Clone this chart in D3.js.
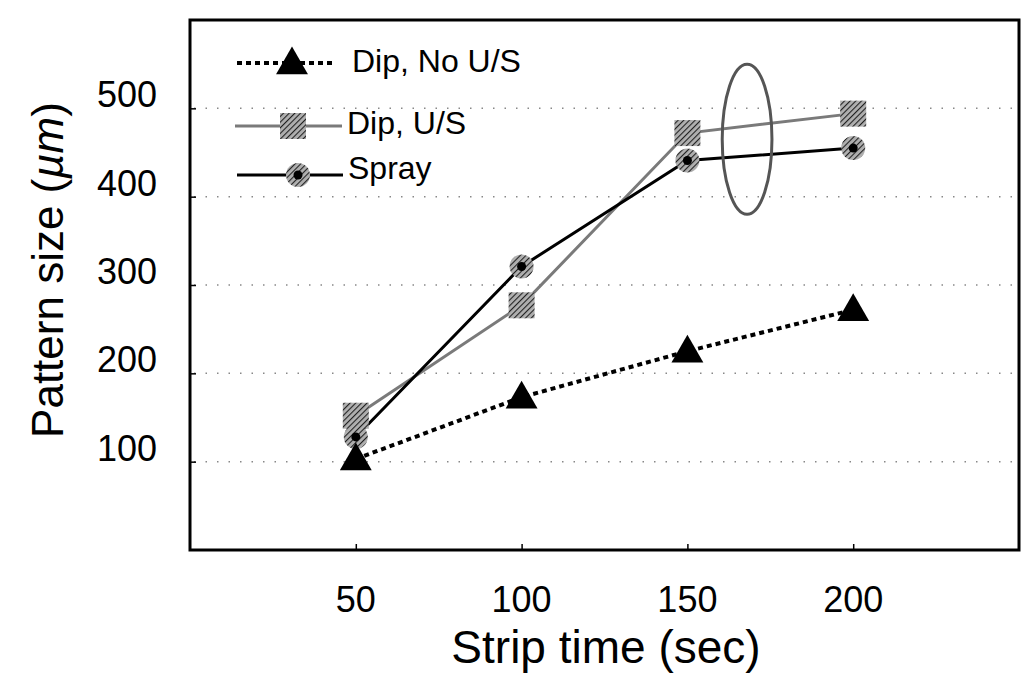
<!DOCTYPE html>
<html>
<head>
<meta charset="utf-8">
<title>Pattern size vs strip time</title>
<script src="https://d3js.org/d3.v7.min.js"></script>
<style>
  body { margin: 0; background: #fff; }
  svg { font-family: "Liberation Sans", Arial, sans-serif; }
  .grid line { stroke: #888; stroke-width: 1.5; stroke-dasharray: 1.5,10; }
</style>
</head>
<body>
<svg width="1024" height="679"></svg>
<script>
// values
var stripTimes = [50, 100, 150, 200];
var dipNoUS = [103, 173, 225, 272];
var dipUS = [152, 277, 472, 494];
var spray = [128, 321, 441, 455];
var yTicks = [100, 200, 300, 400, 500];
var xTicks = [50, 100, 150, 200];
var seriesNames = ["Dip, No U/S", "Dip, U/S", "Spray"];
// the ellipse drawn around the 150-200 sec points (centre and radii in data units)
var ringCentre = [168, 465];
var ringRadii = [7.5, 85];

var svg = d3.select("svg");

var x = d3.scaleLinear().domain([0, 250]).range([190, 1019]);
var y = d3.scaleLinear().domain([0, 600]).range([550, 20]);

var defs = svg.append("defs");
var hatch = defs.append("pattern")
    .attr("id", "hatch")
    .attr("patternUnits", "userSpaceOnUse")
    .attr("width", 4).attr("height", 4)
    .attr("patternTransform", "rotate(45)");
hatch.append("rect").attr("width", 4).attr("height", 4).attr("fill", "#b0b0b0");
hatch.append("line").attr("x1", 0).attr("y1", 0).attr("x2", 0).attr("y2", 4)
    .attr("stroke", "#222").attr("stroke-width", 2.2);

// dotted gridlines
svg.append("g").attr("class", "grid")
  .selectAll("line")
  .data(yTicks)
  .enter().append("line")
    .attr("x1", x(0) + 4).attr("x2", x(250) - 4)
    .attr("y1", function(d) { return y(d); })
    .attr("y2", function(d) { return y(d); });

// y axis (ticks inside)
svg.append("g")
    .attr("transform", "translate(" + x(0) + ",0)")
    .call(d3.axisRight(y).tickValues(yTicks).tickSize(6).tickFormat(""))
    .call(function(g) { g.select(".domain").remove(); })
    .selectAll("line").attr("stroke", "#000").attr("stroke-width", 1.5);

svg.append("g")
  .selectAll("text")
  .data(yTicks)
  .enter().append("text")
    .attr("x", 157)
    .attr("y", function(d) { return y(d) - 1; })
    .attr("text-anchor", "end")
    .attr("font-size", 36)
    .text(function(d) { return d; });

// x axis (ticks inside)
svg.append("g")
    .attr("transform", "translate(0," + y(0) + ")")
    .call(d3.axisTop(x).tickValues(xTicks).tickSize(6).tickFormat(""))
    .call(function(g) { g.select(".domain").remove(); })
    .selectAll("line").attr("stroke", "#000").attr("stroke-width", 1.5);

svg.append("g")
  .selectAll("text")
  .data(xTicks)
  .enter().append("text")
    .attr("x", function(d) { return x(d); })
    .attr("y", 612)
    .attr("text-anchor", "middle")
    .attr("font-size", 36)
    .text(function(d) { return d; });

// frame
svg.append("rect")
    .attr("x", x(0)).attr("y", y(600))
    .attr("width", x(250) - x(0)).attr("height", y(0) - y(600))
    .attr("fill", "none")
    .attr("stroke", "#000")
    .attr("stroke-width", 3);

// axis titles
svg.append("text")
    .attr("x", 606).attr("y", 663)
    .attr("text-anchor", "middle")
    .attr("font-size", 46)
    .text("Strip time (sec)");

var yl = svg.append("text")
    .attr("transform", "translate(63,270) rotate(-90)")
    .attr("text-anchor", "middle")
    .attr("font-size", 44);
yl.append("tspan").text("Pattern size (");
yl.append("tspan").attr("font-style", "italic").text("\u00b5m");
yl.append("tspan").text(")");

// series lines
var line = d3.line()
    .x(function(d) { return x(d[0]); })
    .y(function(d) { return y(d[1]); });

function pairs(vals) { return stripTimes.map(function(t, i) { return [t, vals[i]]; }); }

svg.append("path").datum(pairs(dipUS))
    .attr("d", line).attr("fill", "none")
    .attr("stroke", "#7a7a7a").attr("stroke-width", 3);

svg.append("path").datum(pairs(spray))
    .attr("d", line).attr("fill", "none")
    .attr("stroke", "#000").attr("stroke-width", 3);

svg.append("path").datum(pairs(dipNoUS))
    .attr("d", line).attr("fill", "none")
    .attr("stroke", "#000").attr("stroke-width", 4)
    .attr("stroke-dasharray", "5,4");

// markers
var tri = d3.symbol().type(d3.symbolTriangle).size(440);

function drawSquare(g, cx, cy) {
  g.append("rect")
      .attr("x", cx - 13).attr("y", cy - 13)
      .attr("width", 26).attr("height", 26)
      .attr("fill", "url(#hatch)");
}
function drawCircle(g, cx, cy) {
  g.append("circle").attr("cx", cx).attr("cy", cy).attr("r", 12)
      .attr("fill", "url(#hatch)");
  g.append("circle").attr("cx", cx).attr("cy", cy).attr("r", 4.5)
      .attr("fill", "#000");
}
function drawTriangle(g, cx, cy) {
  g.append("path").attr("d", tri)
      .attr("transform", "translate(" + cx + "," + (cy + 2) + ")")
      .attr("fill", "#000");
}

var marks = svg.append("g");
pairs(dipUS).forEach(function(d) { drawSquare(marks, x(d[0]), y(d[1])); });
pairs(spray).forEach(function(d) { drawCircle(marks, x(d[0]), y(d[1])); });
pairs(dipNoUS).forEach(function(d) { drawTriangle(marks, x(d[0]), y(d[1])); });

// ellipse
svg.append("ellipse")
    .attr("cx", x(ringCentre[0])).attr("cy", y(ringCentre[1]))
    .attr("rx", x(ringRadii[0]) - x(0)).attr("ry", y(0) - y(ringRadii[1]))
    .attr("fill", "none")
    .attr("stroke", "#555").attr("stroke-width", 3);

// legend
var legend = svg.append("g");
var rows = [
  { name: seriesNames[0], y: 63, x1: 237, x2: 335, mx: 292, tx: 352, ty: 72 },
  { name: seriesNames[1], y: 126, x1: 235, x2: 342, mx: 293, tx: 347, ty: 134 },
  { name: seriesNames[2], y: 175, x1: 237, x2: 343, mx: 298, tx: 348, ty: 179 }
];

legend.append("line")
    .attr("x1", rows[0].x1).attr("x2", rows[0].x2)
    .attr("y1", rows[0].y).attr("y2", rows[0].y)
    .attr("stroke", "#000").attr("stroke-width", 4).attr("stroke-dasharray", "5,4");
drawTriangle(legend, rows[0].mx, rows[0].y);

legend.append("line")
    .attr("x1", rows[1].x1).attr("x2", rows[1].x2)
    .attr("y1", rows[1].y).attr("y2", rows[1].y)
    .attr("stroke", "#7a7a7a").attr("stroke-width", 3);
drawSquare(legend, rows[1].mx, rows[1].y);

legend.append("line")
    .attr("x1", rows[2].x1).attr("x2", rows[2].x2)
    .attr("y1", rows[2].y).attr("y2", rows[2].y)
    .attr("stroke", "#000").attr("stroke-width", 3);
drawCircle(legend, rows[2].mx, rows[2].y);

legend.selectAll("text")
  .data(rows)
  .enter().append("text")
    .attr("x", function(d) { return d.tx; })
    .attr("y", function(d) { return d.ty; })
    .attr("font-size", 32)
    .text(function(d) { return d.name; });
</script>
</body>
</html>
